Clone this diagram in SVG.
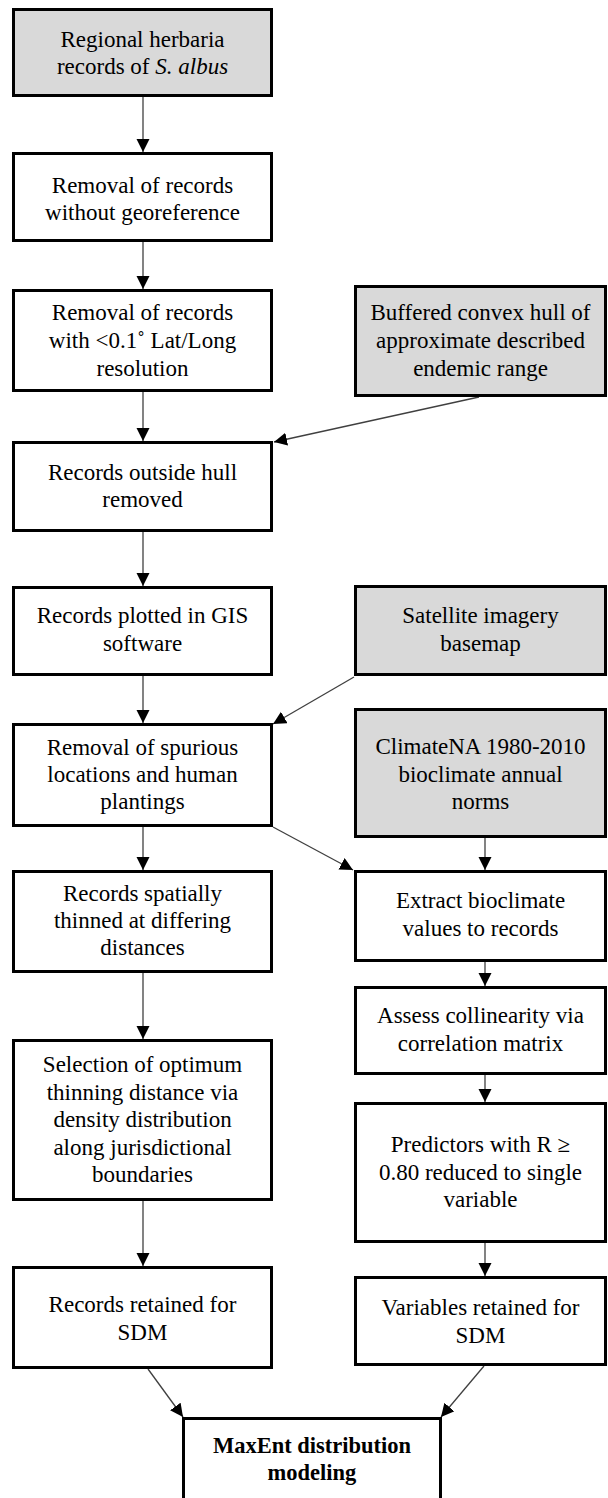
<svg xmlns="http://www.w3.org/2000/svg" width="608" height="1498" viewBox="0 0 608 1498">
<style>
.box{fill:#ffffff;stroke:#000000;stroke-width:3}
.src{fill:#d9d9d9;stroke:#000000;stroke-width:3}
text{font-family:"Liberation Serif","Times New Roman",serif;font-size:23px;fill:#000000;text-anchor:middle}
.b{font-weight:bold;font-size:22.5px}
.edge{stroke:#404040;stroke-width:1.3;fill:none;marker-end:url(#ah)}
</style>
<defs>
<marker id="ah" markerUnits="userSpaceOnUse" markerWidth="14" markerHeight="14" refX="13" refY="6.5" orient="auto">
<path d="M0,0 L13,6.5 L0,13 z" fill="#000000"/>
</marker>
</defs>
<rect width="608" height="1498" fill="#ffffff"/>
<g id="connectors">
<line class="edge" x1="143" y1="97" x2="143" y2="152"/>
<line class="edge" x1="143" y1="242" x2="143" y2="289"/>
<line class="edge" x1="143" y1="390" x2="143" y2="441"/>
<line class="edge" x1="479" y1="397" x2="274" y2="442"/>
<line class="edge" x1="143" y1="532" x2="143" y2="586"/>
<line class="edge" x1="143" y1="676" x2="143" y2="723"/>
<line class="edge" x1="354" y1="677" x2="273" y2="724"/>
<line class="edge" x1="143" y1="827" x2="143" y2="870"/>
<line class="edge" x1="273" y1="827" x2="353" y2="870"/>
<line class="edge" x1="485" y1="838" x2="485" y2="870"/>
<line class="edge" x1="143" y1="973" x2="143" y2="1039"/>
<line class="edge" x1="485" y1="962" x2="485" y2="986"/>
<line class="edge" x1="485" y1="1075" x2="485" y2="1102"/>
<line class="edge" x1="143" y1="1201" x2="143" y2="1266"/>
<line class="edge" x1="485" y1="1243" x2="485" y2="1276"/>
<line class="edge" x1="148" y1="1369" x2="183" y2="1417"/>
<line class="edge" x1="484" y1="1366" x2="441" y2="1417"/>
</g>
<g id="n1">
<rect class="src" x="13.5" y="9.5" width="258" height="86"/>
<text x="142.5" y="46.5">Regional herbaria</text>
<text x="142.5" y="73.5">records of <tspan font-style="italic">S. albus</tspan></text>
</g>
<g id="n2">
<rect class="box" x="13.5" y="153.5" width="258" height="87"/>
<text x="142.5" y="193">Removal of records</text>
<text x="142.5" y="220">without georeference</text>
</g>
<g id="n3">
<rect class="box" x="13.5" y="290.5" width="258" height="100"/>
<text x="142.5" y="320">Removal of records</text>
<text x="142.5" y="348">with &lt;0.1˚ Lat/Long</text>
<text x="142.5" y="376">resolution</text>
</g>
<g id="nB">
<rect class="src" x="355.5" y="286.5" width="250" height="109"/>
<text x="480.5" y="320">Buffered convex hull of</text>
<text x="480.5" y="348">approximate described</text>
<text x="480.5" y="376">endemic range</text>
</g>
<g id="n4">
<rect class="box" x="13.5" y="442.5" width="258" height="88"/>
<text x="142.5" y="480">Records outside hull</text>
<text x="142.5" y="507">removed</text>
</g>
<g id="n5">
<rect class="box" x="13.5" y="587.5" width="258" height="87"/>
<text x="142.5" y="623">Records plotted in GIS</text>
<text x="142.5" y="651">software</text>
</g>
<g id="nS">
<rect class="src" x="355.5" y="586.5" width="250" height="88"/>
<text x="480.5" y="623">Satellite imagery</text>
<text x="480.5" y="651">basemap</text>
</g>
<g id="n6">
<rect class="box" x="13.5" y="724.5" width="258" height="101"/>
<text x="142.5" y="755">Removal of spurious</text>
<text x="142.5" y="782">locations and human</text>
<text x="142.5" y="809">plantings</text>
</g>
<g id="nC">
<rect class="src" x="355.5" y="709.5" width="250" height="127"/>
<text x="480.5" y="754">ClimateNA 1980-2010</text>
<text x="480.5" y="782">bioclimate annual</text>
<text x="480.5" y="809">norms</text>
</g>
<g id="n7">
<rect class="box" x="13.5" y="871.5" width="258" height="100"/>
<text x="142.5" y="901">Records spatially</text>
<text x="142.5" y="928">thinned at differing</text>
<text x="142.5" y="955">distances</text>
</g>
<g id="nE">
<rect class="box" x="355.5" y="871.5" width="250" height="89"/>
<text x="480.5" y="908">Extract bioclimate</text>
<text x="480.5" y="936">values to records</text>
</g>
<g id="nF">
<rect class="box" x="355.5" y="987.5" width="250" height="86"/>
<text x="480.5" y="1023">Assess collinearity via</text>
<text x="480.5" y="1051">correlation matrix</text>
</g>
<g id="n8">
<rect class="box" x="13.5" y="1040.5" width="258" height="159"/>
<text x="142.5" y="1072">Selection of optimum</text>
<text x="142.5" y="1099.5">thinning distance via</text>
<text x="142.5" y="1127">density distribution</text>
<text x="142.5" y="1154.5">along jurisdictional</text>
<text x="142.5" y="1182">boundaries</text>
</g>
<g id="nG">
<rect class="box" x="355.5" y="1103.5" width="250" height="138"/>
<text x="480.5" y="1152">Predictors with R ≥</text>
<text x="480.5" y="1180">0.80 reduced to single</text>
<text x="480.5" y="1207">variable</text>
</g>
<g id="n9">
<rect class="box" x="13.5" y="1267.5" width="258" height="100"/>
<text x="142.5" y="1312">Records retained for</text>
<text x="142.5" y="1340">SDM</text>
</g>
<g id="nH">
<rect class="box" x="355.5" y="1277.5" width="250" height="87"/>
<text x="480.5" y="1315">Variables retained for</text>
<text x="480.5" y="1343">SDM</text>
</g>
<g id="nM">
<rect class="box" x="183.5" y="1418.5" width="257" height="100"/>
<text class="b" x="312" y="1453">MaxEnt distribution</text>
<text class="b" x="312" y="1480">modeling</text>
</g>
</svg>
